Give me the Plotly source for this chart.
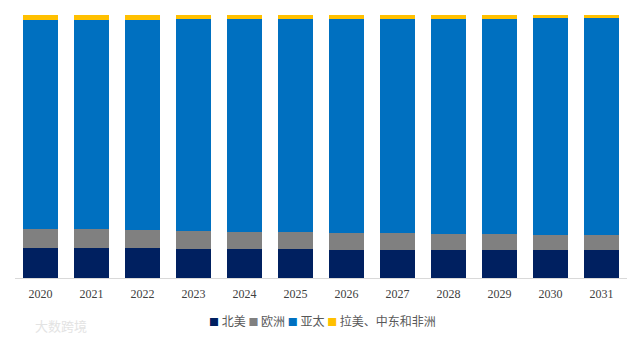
import plotly.graph_objects as go

years = ["2020", "2021", "2022", "2023", "2024", "2025", "2026", "2027", "2028", "2029", "2030", "2031"]
north_america = [11.4, 11.4, 11.3, 11.1, 11.0, 10.9, 10.8, 10.8, 10.7, 10.6, 10.5, 10.5]
europe = [7.3, 7.2, 6.9, 6.8, 6.6, 6.5, 6.3, 6.2, 6.1, 6.0, 6.0, 5.9]
asia_pacific = [79.4, 79.5, 80.0, 80.5, 80.9, 81.1, 81.4, 81.6, 81.8, 82.0, 82.3, 82.4]
latam_mea = [1.9, 1.9, 1.8, 1.6, 1.5, 1.5, 1.5, 1.4, 1.4, 1.4, 1.2, 1.2]

series = [
    ("北美", north_america, "#002060"),
    ("欧洲", europe, "#808080"),
    ("亚太", asia_pacific, "#0070C0"),
    ("拉美、中东和非洲", latam_mea, "#FFC000"),
]

fig = go.Figure()
for name, vals, color in series:
    fig.add_trace(go.Bar(x=years, y=vals, name=name, marker=dict(color=color, line=dict(width=0))))

legend_html = " ".join(
    f"<span style='color:{c};font-size:10px'>■</span> {n}" for n, _, c in series
)

W_plot = 643 - 15 - 16
H_plot = 341 - 15 - 63

fig.update_layout(
    barmode="stack",
    bargap=0.315,
    width=643,
    height=341,
    margin=dict(l=15, r=16, t=15, b=63),
    paper_bgcolor="white",
    plot_bgcolor="white",
    showlegend=False,
    xaxis=dict(
        type="category",
        showline=True,
        linecolor="#D9D9D9",
        linewidth=1,
        ticks="",
        showgrid=False,
        ticklabelstandoff=5,
        tickfont=dict(family="Liberation Serif", size=12, color="#404040"),
    ),
    yaxis=dict(range=[0, 100], visible=False, showgrid=False),
    annotations=[
        dict(
            text=legend_html,
            x=(322 - 15) / W_plot, y=(341 - 63 - 320) / H_plot,
            xref="paper", yref="paper", xanchor="center", yanchor="middle",
            showarrow=False,
            font=dict(family="Noto Sans CJK SC", size=12, color="#595959"),
        ),
        dict(
            text="大数跨境",
            x=(33 - 15) / W_plot, y=(341 - 63 - 325) / H_plot,
            xref="paper", yref="paper", xanchor="left", yanchor="middle",
            showarrow=False,
            font=dict(family="Noto Sans CJK SC", size=13, color="#E3E3E3"),
        ),
    ],
)

fig.write_html("out.html")
